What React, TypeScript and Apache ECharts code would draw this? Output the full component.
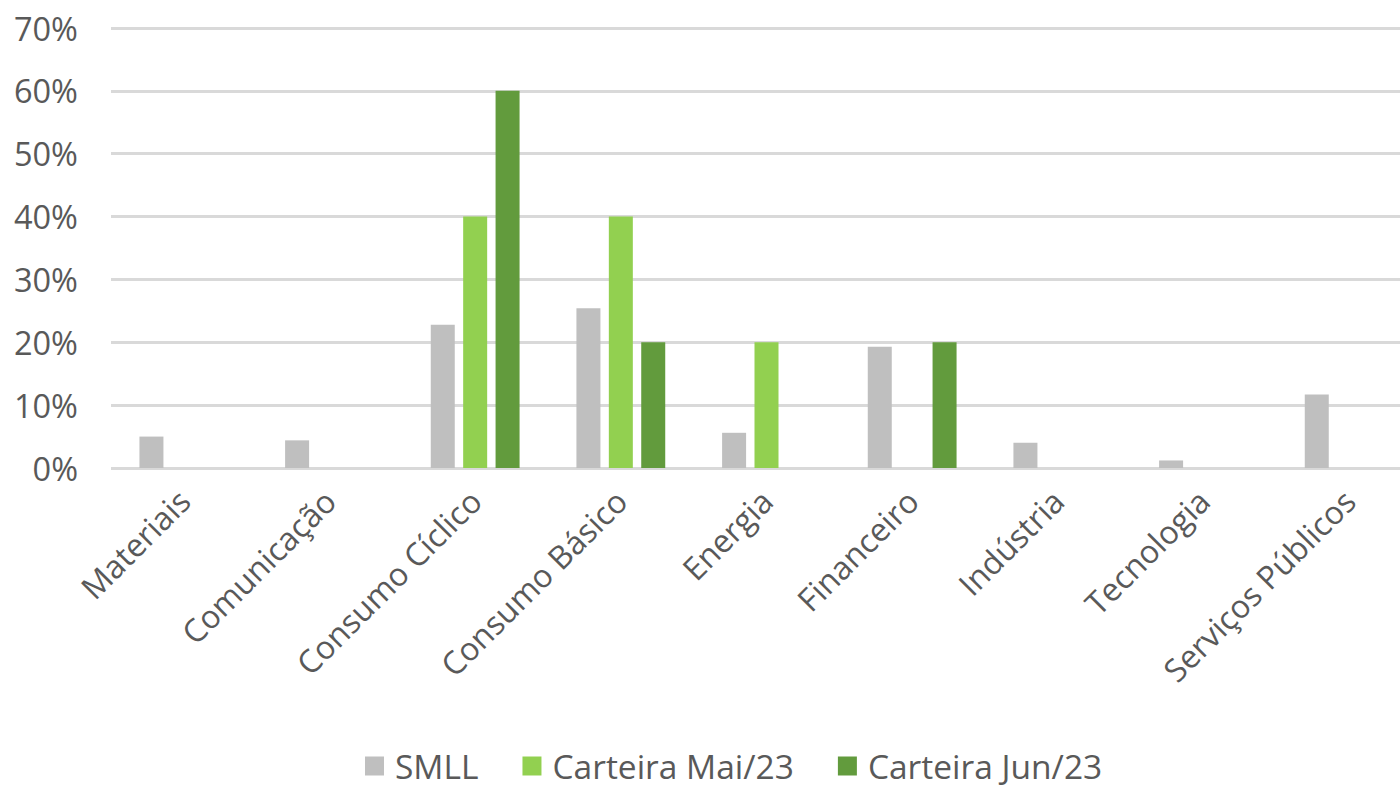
import React, { useEffect, useRef } from "react";
import * as echarts from "echarts";

const categories = [
  "Materiais",
  "Comunicação",
  "Consumo Cíclico",
  "Consumo Básico",
  "Energia",
  "Financeiro",
  "Indústria",
  "Tecnologia",
  "Serviços Públicos",
];
const smll = [5.0, 4.4, 22.8, 25.4, 5.6, 19.3, 4.0, 1.2, 11.7];
const carteiraMai = [0, 0, 40, 40, 20, 0, 0, 0, 0];
const carteiraJun = [0, 0, 60, 20, 0, 20, 0, 0, 0];
const seriesNames = ["SMLL", "Carteira Mai/23", "Carteira Jun/23"];
const colors = ["#BFBFBF", "#92D050", "#629B3D"];

export default function App() {
  const ref = useRef<HTMLDivElement>(null);
  useEffect(() => {
    if (!ref.current) return;
    const chart = echarts.init(ref.current, null, { renderer: "svg" });
    const font = "'Open Sans', 'Noto Sans', sans-serif";
    const data = [smll, carteiraMai, carteiraJun];
    chart.setOption({
      animation: false,
      textStyle: { fontFamily: font },
      legend: {
        top: 749,
        left: 365,
        padding: 0,
        itemWidth: 19,
        itemHeight: 19,
        itemGap: 44,
        icon: "rect",
        textStyle: {
          fontSize: 33.5,
          color: "#595959",
          fontFamily: font,
          padding: [0, 0, 0, 6],
        },
        data: seriesNames,
      },
      grid: { left: 111, right: 0, top: 28, bottom: 320, containLabel: false },
      xAxis: {
        type: "category",
        data: categories,
        axisLine: { show: false },
        axisTick: { show: false },
        axisLabel: {
          rotate: 45,
          fontSize: 32,
          color: "#595959",
          fontFamily: font,
          margin: 27,
          interval: 0,
        },
      },
      yAxis: {
        type: "value",
        min: 0,
        max: 70,
        interval: 10,
        axisLabel: {
          formatter: "{value}%",
          fontSize: 32.5,
          color: "#595959",
          fontFamily: font,
          margin: 33,
        },
        splitLine: { lineStyle: { color: "#D9D9D9", width: 3 } },
        axisLine: { show: false },
        axisTick: { show: false },
      },
      series: seriesNames.map((name, i) => ({
        name,
        type: "bar",
        data: data[i],
        barWidth: 24,
        barGap: "35%",
        itemStyle: { color: colors[i] },
      })),
    });
    return () => chart.dispose();
  }, []);
  return (
    <div
      style={{
        position: "fixed",
        left: 0,
        top: 0,
        width: 1400,
        height: 788,
        overflow: "hidden",
        background: "#fff",
      }}
    >
      <div ref={ref} style={{ width: 1422, height: 788 }} />
    </div>
  );
}
